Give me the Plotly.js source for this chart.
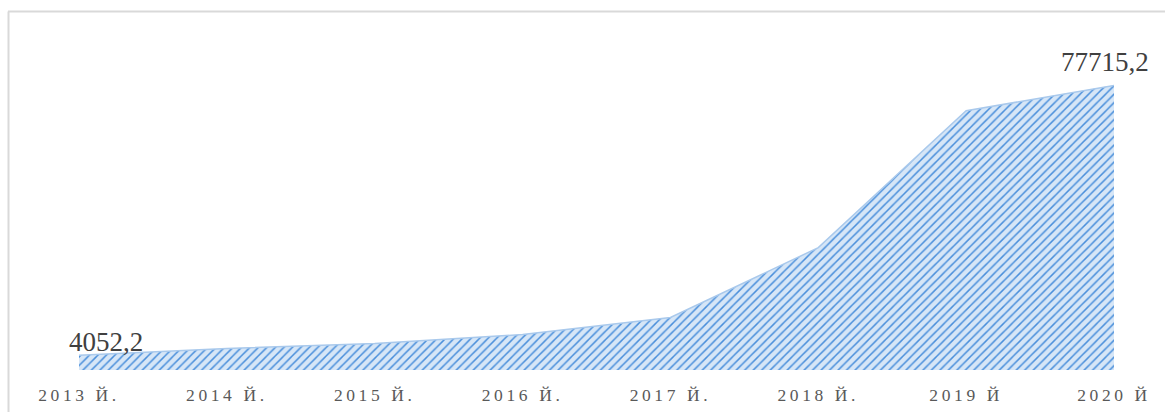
<!DOCTYPE html>
<html>
<head>
<meta charset="utf-8">
<script src="https://cdn.plot.ly/plotly-3.0.1.min.js"></script>
<style>
  html, body { margin: 0; padding: 0; background: #fff; }
  #chart { width: 1165px; height: 412px; }
  .xtick text { letter-spacing: 3.6px; }
</style>
</head>
<body>
<div id="chart"></div>
<script>
const years = ["2013 Й.", "2014 Й.", "2015 Й.", "2016 Й.", "2017 Й.", "2018 Й.", "2019 Й", "2020 Й"];
const values = [4052.2, 5860, 7230, 9680, 14320, 33400, 70770, 77715.2];
const labelledIdx = [0, 7];

const W = 1165, H = 412;
const mL = 79, mR = 51, mT = 77, mB = 41.5;
const plotW = W - mL - mR, plotH = H - mT - mB;
const px2x = p => (p - mL) / plotW;
const py2y = p => (H - mB - p) / plotH;

function fmt(v) { return String(v).replace('.', ','); }

const trace = {
  type: 'scatter',
  mode: 'lines',
  x: years,
  y: values,
  fill: 'tozeroy',
  line: { color: '#a9c9ec', width: 1.5 },
  fillcolor: '#d6e6f7',
  fillpattern: { shape: '/', fgcolor: '#4a8fdb', bgcolor: '#d6e6f7', size: 6, solidity: 0.25 },
  hoverinfo: 'skip'
};

const annotations = [
  { x: years[labelledIdx[0]], y: values[labelledIdx[0]], text: fmt(values[labelledIdx[0]]),
    xanchor: 'left', yanchor: 'bottom', xshift: -12, yshift: -4, showarrow: false,
    font: { family: 'Liberation Serif, Times New Roman, serif', size: 27, color: '#404040' } },
  { x: years[labelledIdx[1]], y: values[labelledIdx[1]], text: fmt(values[labelledIdx[1]]),
    xanchor: 'right', yanchor: 'bottom', xshift: 37, yshift: 6, showarrow: false,
    font: { family: 'Liberation Serif, Times New Roman, serif', size: 27, color: '#404040' } }
];

const border = { color: '#d9d9d9', width: 2 };
const shapes = [
  { type: 'line', xref: 'paper', yref: 'paper', x0: px2x(8), x1: px2x(1170), y0: py2y(11.5), y1: py2y(11.5), line: border },
  { type: 'line', xref: 'paper', yref: 'paper', x0: px2x(8.5), x1: px2x(8.5), y0: py2y(11.5), y1: py2y(420), line: border }
];

const layout = {
  width: W, height: H,
  margin: { l: mL, r: mR, t: mT, b: mB },
  paper_bgcolor: '#ffffff',
  plot_bgcolor: 'rgba(0,0,0,0)',
  showlegend: false,
  xaxis: {
    type: 'category', range: [0, 7], showgrid: false, zeroline: false, showline: false,
    ticks: '', tickfont: { family: 'Liberation Serif, Times New Roman, serif', size: 17.5, color: '#595959' },
    ticklabelstandoff: 12, fixedrange: true
  },
  yaxis: {
    range: [0, 80000], showgrid: false, zeroline: false, showline: false, showticklabels: false,
    ticks: '', fixedrange: true
  },
  annotations: annotations,
  shapes: shapes
};

Plotly.newPlot('chart', [trace], layout, { displayModeBar: false, staticPlot: true });
</script>
</body>
</html>
